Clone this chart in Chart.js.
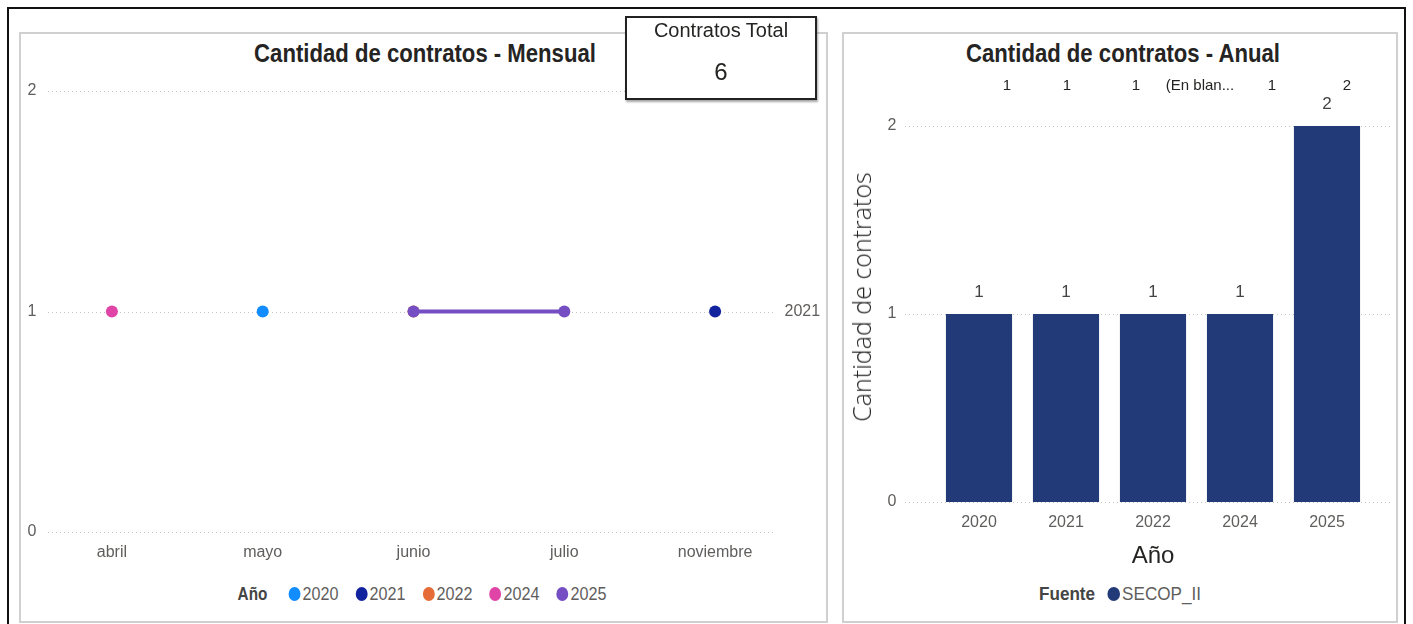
<!DOCTYPE html>
<html>
<head>
<meta charset="utf-8">
<script src="https://cdn.jsdelivr.net/npm/chart.js@4.4.1/dist/chart.umd.min.js"></script>
<style>
  html, body { margin: 0; padding: 0; background: #fff; }
  body { width: 1413px; height: 624px; position: relative; overflow: hidden;
         font-family: 'Liberation Sans', Arial, sans-serif; }
  #frame { position: absolute; left: 7px; top: 7px; width: 1399px; height: 640px; border: 2px solid #111; box-sizing: border-box; }
  .panel { position: absolute; border: 2px solid #d0d0d0; box-sizing: border-box; background: #fff; }
  .ptitle { position: absolute; font-weight: bold; font-size: 25px; color: #252423; white-space: nowrap;
            transform: translateX(-50%) scaleX(0.885); top: 39px; }
  .legend { position: absolute; top: 583px; display: flex; align-items: center; font-size: 19px; color: #605E5C; white-space: nowrap; }
  .legend b { color: #444; font-size: 18px; }
  .legend .dot { width: 14px; height: 14px; border-radius: 50%; display: inline-block; }
  #kpi { position: absolute; left: 625px; top: 16px; width: 192px; height: 84px; border: 2px solid #222; box-sizing: border-box; background: #fff;
         box-shadow: 1px 2px 2px rgba(0,0,0,0.35); text-align: center; z-index: 5; }
  #kpi .k1 { position: absolute; left: 0; right: 0; top: 1px; font-size: 20px; color: #252423; }
  #kpi .k2 { position: absolute; left: 0; right: 0; top: 40px; font-size: 24px; color: #252423; }
  canvas { position: absolute; }
  .toplab { position: absolute; top: 76px; font-size: 15px; color: #252423; transform: translateX(-50%); white-space: nowrap; }
  #ytitle { position: absolute; left: 861px; top: 297px; font-family: 'Open Sans', sans-serif; font-weight: 300; font-size: 25px; color: #252423;
            white-space: nowrap; transform: translate(-50%, -50%) rotate(-90deg); }
</style>
</head>
<body>
<div id="frame"></div>
<div class="panel" style="left:19px; top:32px; width:809px; height:591px;"></div>
<div class="panel" style="left:842px; top:32px; width:556px; height:591px;"></div>
<div class="ptitle" style="left:425px;">Cantidad de contratos - Mensual</div>
<div class="ptitle" style="left:1123px;">Cantidad de contratos - Anual</div>
<div id="kpi"><div class="k1" id="kpiLabel"></div><div class="k2" id="kpiValue"></div></div>
<canvas id="c1" width="806" height="510" style="left:20px; top:70px; width:806px; height:510px;"></canvas>
<canvas id="c2" width="553" height="510" style="left:843px; top:70px; width:553px; height:510px;"></canvas>
<div id="ytitle"></div>
<div class="legend" id="leg1" style="left:422px; transform: translateX(-50%) scaleX(0.85);"></div>
<div class="legend" id="leg2" style="left:1120px; transform: translateX(-50%) scaleX(0.9);"></div>
<div id="toprow"></div>
<script>
// ---------- DATA ----------
const months = ['abril', 'mayo', 'junio', 'julio', 'noviembre'];
const years = ['2020', '2021', '2022', '2024', '2025'];
const s2020 = [null, 1, null, null, null];
const s2021 = [null, null, null, null, 1];
const s2022 = [null, null, 1, null, null];
const s2024 = [1, null, null, null, null];
const s2025 = [null, null, 1, 1, null];
const yearColors = ['#118DFF', '#12239E', '#E66C37', '#E044A7', '#744EC2'];
const endLabelSeries = '2021';

const annualYears = ['2020', '2021', '2022', '2024', '2025'];
const annualCounts = [1, 1, 1, 1, 2];
const fuenteName = 'SECOP_II';
const barColor = '#233A78';
const yAxisTitle = 'Cantidad de contratos';
const xAxisTitle = 'Año';

const topRowLabels = ['1', '1', '1', '(En blan...', '1', '2'];
const topRowX = [1007, 1067, 1136, 1200, 1272, 1347];

const kpiLabel = 'Contratos Total';
const kpiValue = 6;

// ---------- HTML parts ----------
document.getElementById('kpiLabel').textContent = kpiLabel;
document.getElementById('kpiValue').textContent = String(kpiValue);
document.getElementById('ytitle').textContent = yAxisTitle;

const tr = document.getElementById('toprow');
topRowLabels.forEach((t, i) => {
  const s = document.createElement('span');
  s.className = 'toplab'; s.style.left = topRowX[i] + 'px'; s.textContent = t;
  tr.appendChild(s);
});

const leg1 = document.getElementById('leg1');
leg1.innerHTML = '<b style="margin-right:25px">Año</b>' + years.map((y, i) =>
  `<span class="dot" style="background:${yearColors[i]}; margin-right:2.5px"></span><span style="margin-right:${i < years.length - 1 ? 20 : 0}px">${y}</span>`).join('');
const leg2 = document.getElementById('leg2');
leg2.innerHTML = '<b style="font-size:19px; margin-right:14px">Fuente</b>' +
  `<span class="dot" style="background:${barColor}; margin-right:2px"></span><span>${fuenteName}</span>`;

// ---------- plugins ----------
const FONT = "'Liberation Sans', Arial, sans-serif";
const extGrid = {
  id: 'extGrid',
  beforeDatasetsDraw(chart, args, opts) {
    const ys = chart.scales.y, ca = chart.chartArea, ctx = chart.ctx;
    ctx.save();
    ctx.strokeStyle = opts.color || '#c4c4c4';
    ctx.lineWidth = 1;
    ctx.setLineDash([1, 3]);
    ys.ticks.forEach(t => {
      const y = Math.round(ys.getPixelForValue(t.value)) + 0.5;
      ctx.beginPath();
      ctx.moveTo(ca.left + (opts.left || 0), y);
      ctx.lineTo(ca.right + (opts.right || 0), y);
      ctx.stroke();
    });
    ctx.restore();
  }
};
const endLabel = {
  id: 'endLabel',
  afterDatasetsDraw(chart, args, opts) {
    if (!opts.series) return;
    const idx = chart.data.datasets.findIndex(d => d.label === opts.series);
    if (idx < 0) return;
    const ds = chart.data.datasets[idx];
    let last = -1;
    ds.data.forEach((v, i) => { if (v !== null) last = i; });
    if (last < 0) return;
    const ctx = chart.ctx;
    ctx.save();
    ctx.font = '16px ' + FONT;
    ctx.fillStyle = '#605E5C';
    ctx.textBaseline = 'middle';
    ctx.textAlign = 'left';
    ctx.fillText(opts.series, chart.chartArea.right - 6, chart.scales.y.getPixelForValue(ds.data[last]));
    ctx.restore();
  }
};
const barLabels = {
  id: 'barLabels',
  afterDatasetsDraw(chart) {
    const ctx = chart.ctx;
    ctx.save();
    ctx.font = '17px ' + FONT;
    ctx.fillStyle = '#444';
    ctx.textAlign = 'center';
    ctx.textBaseline = 'middle';
    chart.data.datasets.forEach((ds, di) => {
      chart.getDatasetMeta(di).data.forEach((bar, i) => {
        ctx.fillText(String(ds.data[i]), bar.x, bar.y - 22);
      });
    });
    ctx.restore();
  }
};

// ---------- chart 1 (line) ----------
const seriesData = [s2020, s2021, s2022, s2024, s2025];
new Chart(document.getElementById('c1'), {
  type: 'line',
  data: {
    labels: months,
    datasets: years.map((y, i) => ({
      label: y,
      data: seriesData[i],
      borderColor: yearColors[i],
      backgroundColor: yearColors[i],
      pointBackgroundColor: yearColors[i],
      pointBorderColor: yearColors[i],
      pointRadius: 6,
      pointBorderWidth: 0,
      borderWidth: 4,
      spanGaps: false,
      order: y === '2025' ? 0 : 1
    }))
  },
  options: {
    responsive: false,
    animation: false,
    clip: false,
    layout: { padding: { top: 21, right: 35.5, bottom: 0, left: 0 } },
    plugins: {
      legend: { display: false },
      tooltip: { enabled: false },
      extGrid: { left: 11.5, right: -15.5 },
      endLabel: { series: endLabelSeries }
    },
    scales: {
      x: {
        offset: true,
        grid: { display: false, drawTicks: false },
        border: { display: false },
        ticks: { color: '#605E5C', font: { family: FONT, size: 16 }, padding: 11, maxRotation: 0 },
        afterFit(s) { s.height = 48; }
      },
      y: {
        min: 0, max: 2,
        grid: { display: false, drawTicks: false },
        border: { display: false },
        ticks: { stepSize: 1, color: '#605E5C', font: { family: FONT, size: 16 }, padding: 0 },
        afterFit(s) { s.width = 16.5; }
      }
    }
  },
  plugins: [extGrid, endLabel]
});

// ---------- chart 2 (bar) ----------
new Chart(document.getElementById('c2'), {
  type: 'bar',
  data: {
    labels: annualYears,
    datasets: [{
      label: fuenteName,
      data: annualCounts,
      backgroundColor: barColor,
      categoryPercentage: 1,
      barPercentage: 0.76
    }]
  },
  options: {
    responsive: false,
    animation: false,
    layout: { padding: { top: 56, right: 25.5, bottom: 0, left: 0 } },
    plugins: {
      legend: { display: false },
      tooltip: { enabled: false },
      extGrid: { left: -30.5, right: 19.5 }
    },
    scales: {
      x: {
        grid: { display: false, drawTicks: false },
        border: { display: false },
        ticks: { color: '#605E5C', font: { family: FONT, size: 16 }, padding: 11, maxRotation: 0 },
        title: { display: true, text: xAxisTitle, color: '#252423', font: { family: FONT, size: 24 }, padding: { top: 0, bottom: 9 } },
        afterFit(s) { s.height = 78; }
      },
      y: {
        min: 0, max: 2,
        grid: { display: false, drawTicks: false },
        border: { display: false },
        ticks: { stepSize: 1, color: '#605E5C', font: { family: FONT, size: 16 }, padding: 39 },
        afterFit(s) { s.width = 92.5; }
      }
    }
  },
  plugins: [extGrid, barLabels]
});
</script>
</body>
</html>
